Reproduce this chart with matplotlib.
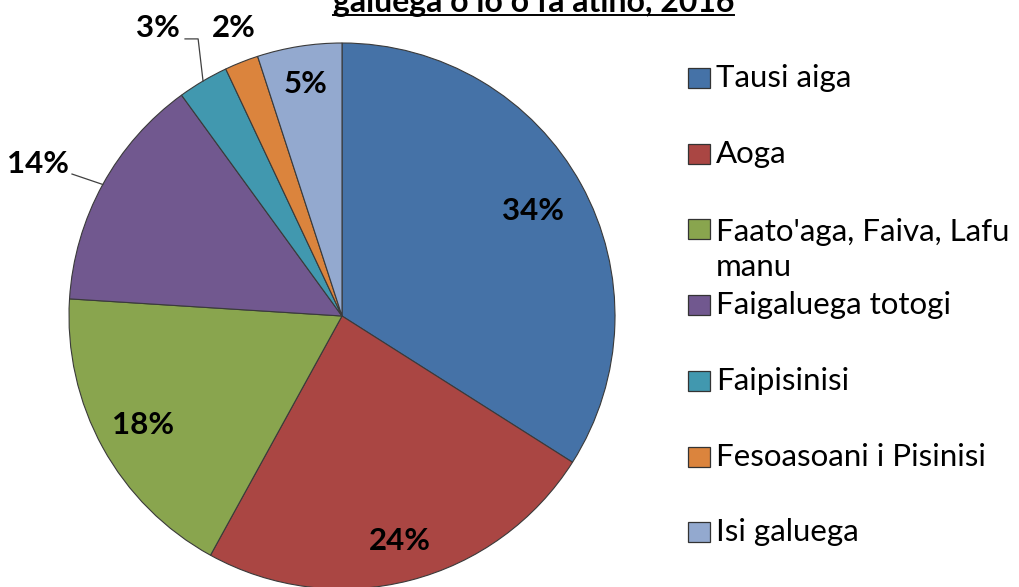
import matplotlib
matplotlib.use('Agg')
import matplotlib.pyplot as plt
import matplotlib.patches as mpatches
from matplotlib.lines import Line2D
import numpy as np

plt.rcParams['font.family'] = ['Lato', 'DejaVu Sans']

# data
categories = ['Tausi aiga', 'Aoga', "Faato'aga, Faiva, Lafu\nmanu", 'Faigaluega totogi',
              'Faipisinisi', 'Fesoasoani i Pisinisi', 'Isi galuega']
shares = [34, 24, 18, 14, 3, 2, 5]
colors = ['#4572A7', '#AA4643', '#89A54E', '#71588F', '#4198AF', '#DB843D', '#93A9CF']
title = 'galuega o lo o fa atino, 2016'

W, H = 1020, 587
fig = plt.figure(figsize=(W / 100, H / 100), dpi=100)

# pie centre (342, 316) px, radius 273 px
R = 273
lim = 1.3
half = lim * R
ax = fig.add_axes([(342 - half) / W, (H - 316 - half) / H, 2 * half / W, 2 * half / H])

wedges, _ = ax.pie(shares, colors=colors, startangle=90, counterclock=False, radius=1,
                   wedgeprops=dict(edgecolor='#3a3a3a', linewidth=0.8))
ax.set_xlim(-lim, lim)
ax.set_ylim(-lim, lim)
ax.axis('off')

# label placement: inside ones by radial distance, small ones outside
inside_dist = {0: 0.80, 1: 0.85, 2: 0.83, 6: 0.86}
outside_pos = {3: (-1.114, 0.557), 4: (-0.674, 1.055), 5: (-0.396, 1.055)}
leader_start = {3: [(-0.989, 0.520)], 4: [(-0.575, 1.015), (-0.527, 1.015)]}

for i, w in enumerate(wedges):
    mid = np.deg2rad((w.theta1 + w.theta2) / 2)
    txt = '%d%%' % shares[i]
    if i in inside_dist:
        d = inside_dist[i]
        ax.text(d * np.cos(mid), d * np.sin(mid), txt, ha='center', va='center',
                fontsize=22.5, fontweight='bold', color='black')
    else:
        x, y = outside_pos[i]
        ax.text(x, y, txt, ha='center', va='center', fontsize=22.5, fontweight='bold',
                color='black', clip_on=False)
        if i in leader_start:
            pts = leader_start[i] + [(np.cos(mid), np.sin(mid))]
            xs, ys = zip(*pts)
            ax.plot(xs, ys, color='#404040', lw=0.9, clip_on=False)

# title (first line lies above the visible area)
ty = 1 - 12 / H
t = fig.text(533.5 / W, ty, title, ha='center', va='baseline', fontsize=23, fontweight='bold')
fig.canvas.draw()
bb = t.get_window_extent()
uy = 1 - 14.5 / H
fig.add_artist(Line2D([bb.x0 / W, bb.x1 / W], [uy, uy], transform=fig.transFigure,
                      color='black', lw=1.4))

# legend
for i, (name, col) in enumerate(zip(categories, colors)):
    yc = 78 + 75.7 * i
    fig.add_artist(mpatches.Rectangle((688 / W, 1 - (yc + 10) / H), 22 / W, 20 / H,
                                      transform=fig.transFigure, facecolor=col,
                                      edgecolor='#333333', linewidth=0.9))
    extra = name.count('\n') * 38
    fig.text(716 / W, 1 - (yc + 9 + extra) / H, name, ha='left', va='baseline',
             fontsize=22.5, linespacing=1.31, color='black')

fig.savefig('out.png', dpi=100)
